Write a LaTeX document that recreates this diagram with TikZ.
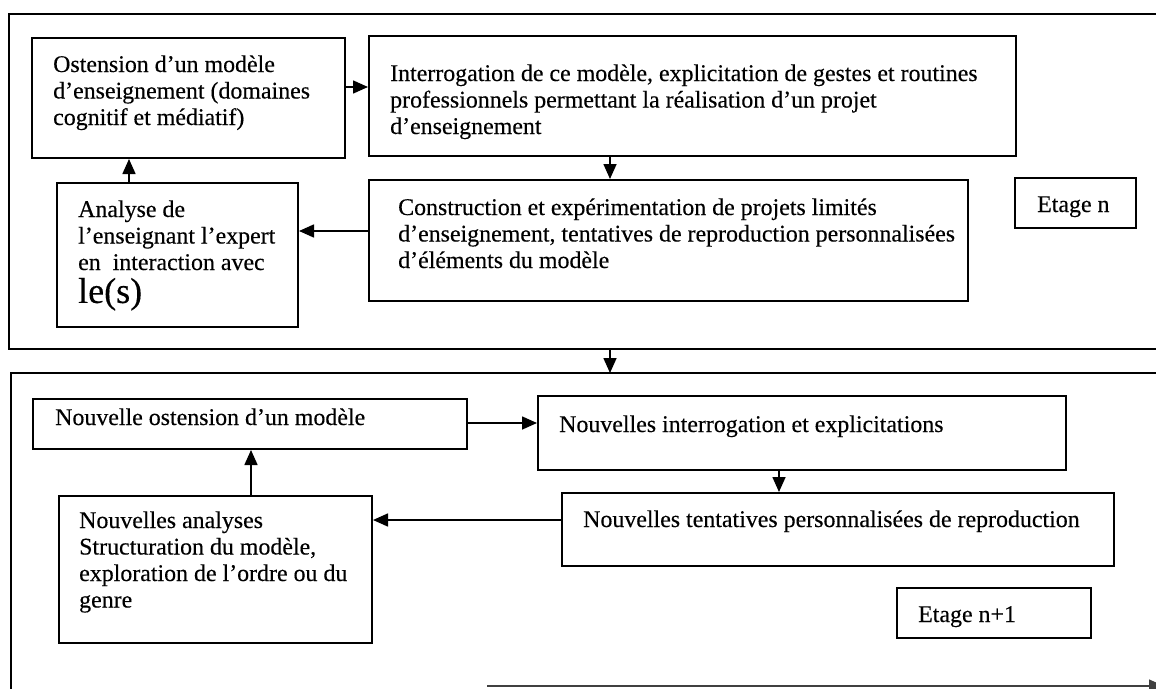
\documentclass[tikz,border=0pt]{standalone}
\usepackage{fontspec}
\setmainfont[FakeBold=0.3]{Liberation Serif}
\usetikzlibrary{arrows.meta}
\newcommand\mylines[1]{\begin{tabular}[t]{@{}l@{}}#1\end{tabular}}
\tikzset{
  box/.style={draw, line width=2pt, rectangle, inner sep=0pt},
  frameline/.style={line width=2.2pt},
  arr/.style={line width=1.6pt, -{Triangle[length=15pt,width=13pt]}},
  txt/.style={font=\fontsize{23.9}{26.5}\selectfont, inner sep=0pt, anchor=base west},
}
\begin{document}
\begin{tikzpicture}[x=1pt,y=-1pt]
\useasboundingbox (0,0) rectangle (1156,688);
% frames
\coordinate (f1ne) at (1160,14);
\coordinate (f1nw) at (9,14);
\coordinate (f1sw) at (9,349);
\coordinate (f1se) at (1160,349);
\draw[frameline] (f1ne) -- (f1nw) -- (f1sw) -- (f1se);
\coordinate (f2ne) at (1160,373);
\coordinate (f2nw) at (11,373);
\coordinate (f2sw) at (11,692);
\draw[frameline] (f2ne) -- (f2nw) -- (f2sw);
\coordinate (f1b) at (610,349);
\coordinate (f2t) at (610,373);
\draw[arr] (f1b) -- (f2t);
\coordinate (bl) at (487,686);
\coordinate (br) at (1164,686);
\draw[arr, line width=1.3pt, draw=black!75] (bl) -- (br);

% boxes level n
\node[box, minimum width=313pt, minimum height=120pt] (A) at (188.5,98) {};
\node[box, minimum width=647pt, minimum height=120pt] (B) at (692.5,96) {};
\node[box, minimum width=599pt, minimum height=121pt] (C) at (668.5,240.5) {};
\node[box, minimum width=241pt, minimum height=144pt] (D) at (177.5,255) {};
\node[box, minimum width=121pt, minimum height=50pt] (En) at (1075.5,203) {};

\node[txt] (tA) at (53,72) {\mylines{Ostension d’un modèle\\d’enseignement (domaines\\cognitif et médiatif)}};
\node[txt] (tB) at (390,81) {\mylines{Interrogation de ce modèle, explicitation de gestes et routines\\professionnels permettant la réalisation d’un projet\\d’enseignement}};
\node[txt] (tC) at (398,215) {\mylines{Construction et expérimentation de projets limités\\d’enseignement, tentatives de reproduction personnalisées\\d’éléments du modèle}};
\node[txt] (tD) at (78,217) {\mylines{Analyse de\\l’enseignant l’expert\\en\ \ interaction avec\\{\fontsize{36}{36}\selectfont le(s)}}};
\node[txt] (tEn) at (1037,212) {Etage n};

\draw[arr] ([yshift=11pt]A.east) -- ([yshift=11pt]A.east -| B.west);
\draw[arr] ([xshift=-82.5pt]B.south) -- ([xshift=-82.5pt]B.south |- C.north);
\draw[arr] ([yshift=9.5pt]C.west) -- ([yshift=9.5pt]C.west -| D.east);
\draw[arr] ([xshift=-48.5pt]D.north) -- ([xshift=-48.5pt]D.north |- A.south);

% boxes level n+1
\node[box, minimum width=434pt, minimum height=50pt] (E) at (250,424) {};
\node[box, minimum width=528pt, minimum height=74pt] (F) at (802,433) {};
\node[box, minimum width=552pt, minimum height=73pt] (G) at (838,529.5) {};
\node[box, minimum width=313pt, minimum height=147pt] (H) at (215.5,569.5) {};
\node[box, minimum width=194pt, minimum height=50pt] (En1) at (994,613) {};

\node[txt] (tE) at (55,425) {Nouvelle ostension d’un modèle};
\node[txt] (tF) at (559,432) {Nouvelles interrogation et explicitations};
\node[txt] (tG) at (583,527) {Nouvelles tentatives personnalisées de reproduction};
\node[txt] (tH) at (79,528) {\mylines{Nouvelles analyses\\Structuration du modèle,\\exploration de l’ordre ou du\\genre}};
\node[txt] (tEn1) at (918,622) {Etage n+1};

\draw[arr] ([yshift=1pt]E.east) -- ([yshift=1pt]E.east -| F.west);
\draw[arr] ([xshift=-23pt]F.south) -- ([xshift=-23pt]F.south |- G.north);
\draw[arr] ([yshift=9.5pt]G.west) -- ([yshift=9.5pt]G.west -| H.east);
\draw[arr] ([xshift=35.5pt]H.north) -- ([xshift=35.5pt]H.north |- E.south);
\end{tikzpicture}
\end{document}
